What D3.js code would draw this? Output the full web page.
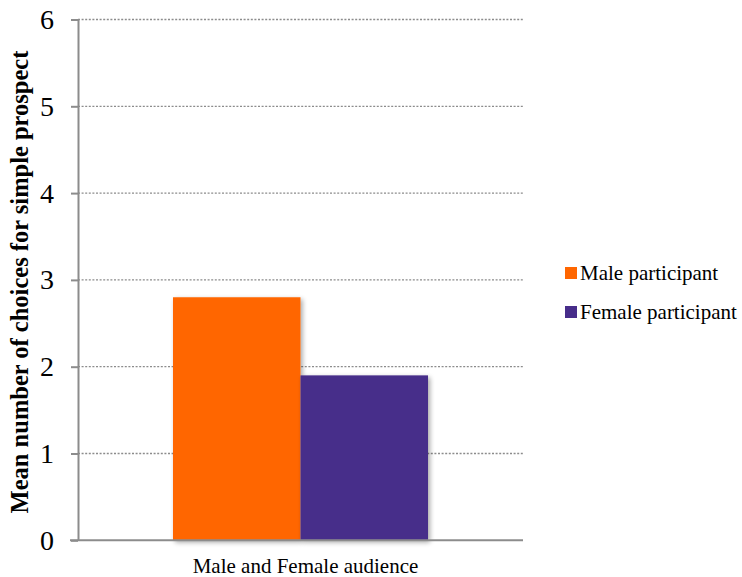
<!DOCTYPE html>
<html>
<head>
<meta charset="utf-8">
<script src="https://cdn.jsdelivr.net/npm/d3@7"></script>
<style>
  body { margin: 0; background: #fff; }
  svg { display: block; }
  text { font-family: "Liberation Serif", "Times New Roman", serif; fill: #000; }
</style>
</head>
<body>
<script>
// Chart data
const categories = ["Male and Female audience"];
const seriesNames = ["Male participant", "Female participant"];
const seriesColors = ["#ff6600", "#472d8a"];
const maleValues = [2.8];
const femaleValues = [1.9];
const yTicks = [0, 1, 2, 3, 4, 5, 6];
const yTitle = "Mean number of choices for simple prospect";

const W = 742, H = 577;
const margin = { left: 78, right: 219, top: 19.5, bottom: 36.7 };
const serif = "Liberation Serif, Times New Roman, serif";

const svg = d3.select("body").append("svg")
  .attr("width", W).attr("height", H);

const defs = svg.append("defs");
const shadow = defs.append("filter").attr("id", "barShadow")
  .attr("x", "-10%").attr("y", "-10%").attr("width", "130%").attr("height", "130%");
shadow.append("feGaussianBlur").attr("in", "SourceAlpha").attr("stdDeviation", 2.5);
shadow.append("feOffset").attr("dx", 1.5).attr("dy", 1.5).attr("result", "blur");
shadow.append("feComponentTransfer").append("feFuncA").attr("type", "linear").attr("slope", 0.35);
const merge = shadow.append("feMerge");
merge.append("feMergeNode");
merge.append("feMergeNode").attr("in", "SourceGraphic");

const x0 = d3.scaleBand()
  .domain(categories)
  .range([margin.left, W - margin.right]);
const x1 = d3.scaleBand()
  .domain(seriesNames)
  .range([0, x0.bandwidth()])
  .paddingOuter(0.745);
const y = d3.scaleLinear()
  .domain([0, 6])
  .range([H - margin.bottom, margin.top]);

// Dotted horizontal gridlines
svg.append("g")
  .selectAll("line")
  .data(yTicks.filter(d => d > 0))
  .join("line")
  .attr("x1", margin.left)
  .attr("x2", W - margin.right)
  .attr("y1", d => y(d))
  .attr("y2", d => y(d))
  .attr("stroke", "#8c8c8c")
  .attr("stroke-width", 1.3)
  .attr("stroke-dasharray", "2,1.6");

// Bars
const rows = categories.map((c, i) => ({
  category: c,
  values: [maleValues[i], femaleValues[i]]
}));
const groups = svg.append("g").selectAll("g")
  .data(rows)
  .join("g")
  .attr("transform", d => `translate(${x0(d.category)},0)`);
groups.selectAll("rect")
  .data(d => d.values.map((v, j) => ({ name: seriesNames[j], value: v, color: seriesColors[j] })))
  .join("rect")
  .attr("x", d => x1(d.name))
  .attr("width", x1.bandwidth())
  .attr("y", d => y(d.value))
  .attr("height", d => y(0) - y(d.value))
  .attr("fill", d => d.color)
  .attr("filter", "url(#barShadow)");

// Y axis
const yAxis = svg.append("g")
  .attr("transform", `translate(${margin.left},0)`)
  .call(d3.axisLeft(y).tickValues(yTicks).tickFormat(d3.format("d"))
    .tickSize(7).tickPadding(17).tickSizeOuter(0));
yAxis.select(".domain").attr("stroke", "#8c8c8c").attr("stroke-width", 2);
yAxis.selectAll(".tick line").attr("stroke", "#8c8c8c").attr("stroke-width", 2);
yAxis.selectAll(".tick text")
  .attr("font-size", 28)
  .attr("font-family", serif)
  .attr("fill", "#000");

// X axis
const xAxis = svg.append("g")
  .attr("transform", `translate(0,${y(0)})`)
  .call(d3.axisBottom(x0).tickSize(0));
xAxis.select(".domain")
  .attr("d", `M${margin.left - 8},0H${W - margin.right}`)
  .attr("stroke", "#8c8c8c").attr("stroke-width", 2);
xAxis.selectAll(".tick text")
  .attr("x", 5)
  .attr("y", 33)
  .attr("dy", 0)
  .attr("font-size", 21)
  .attr("font-family", serif)
  .attr("fill", "#000");

// Y axis title
svg.append("text")
  .attr("transform", "translate(28,282) rotate(-90)")
  .attr("text-anchor", "middle")
  .attr("font-size", 24.5)
  .attr("font-weight", "bold")
  .text(yTitle);

// Legend
const legend = svg.append("g")
  .attr("transform", "translate(565,267)");
const items = legend.selectAll("g")
  .data(seriesNames)
  .join("g")
  .attr("transform", (d, i) => `translate(0,${i * 39})`);
items.append("rect")
  .attr("width", 12).attr("height", 12)
  .attr("fill", (d, i) => seriesColors[i]);
items.append("text")
  .attr("x", 15).attr("y", 13)
  .attr("font-size", 21)
  .text(d => d);
</script>
</body>
</html>
